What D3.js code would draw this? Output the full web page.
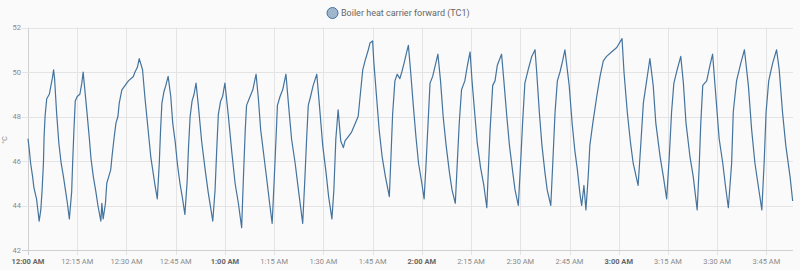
<!DOCTYPE html>
<html>
<head>
<meta charset="utf-8">
<script src="https://cdn.jsdelivr.net/npm/d3@7"></script>
<style>
  body { margin: 0; background: #fafafa; font-family: Roboto, "Noto Sans", sans-serif; }
  svg { display: block; }
</style>
</head>
<body>
<script>
// series: minutes after midnight, value in °C
var minutes = [
  0.0, 0.4, 0.8, 1.4, 1.8, 2.6, 3.0, 3.4, 3.9, 4.3, 4.7, 4.9, 5.2, 5.7, 6.5, 7.0, 7.4, 7.8,
  8.1, 8.7, 9.4, 10.1, 10.8, 11.4, 12.0, 12.6, 13.3, 13.6, 14.0, 14.4, 15.0, 15.8, 16.4, 16.8,
  17.9, 18.7, 19.2, 19.9, 20.7, 21.3, 22.2, 22.5, 22.9, 23.6, 24.0, 24.6, 25.2, 25.6, 26.2,
  26.8, 27.4, 27.8, 28.6, 29.6, 30.6, 32.1, 32.6, 33.3, 33.9, 34.9, 35.6, 36.2, 36.8, 37.4,
  38.0, 38.7, 39.4, 40.0, 40.4, 40.8, 41.4, 42.0, 42.7, 43.5, 44.1, 44.9, 45.5, 46.3, 47.1,
  47.8, 48.5, 48.9, 49.4, 50.0, 50.6, 51.2, 51.9, 52.9, 53.9, 54.9, 56.3, 57.0, 57.5, 58.0,
  58.7, 59.3, 60.0, 61.0, 62.1, 63.1, 64.1, 65.1, 65.6, 66.2, 66.6, 67.4, 68.5, 69.5, 70.2,
  70.9, 71.9, 72.9, 73.7, 74.4, 75.0, 75.6, 76.0, 76.8, 77.6, 78.6, 79.4, 80.3, 81.4, 82.4,
  83.7, 84.3, 84.9, 85.4, 86.1, 86.9, 88.0, 88.8, 89.8, 90.8, 91.6, 92.6, 93.2, 93.8, 94.5,
  95.3, 96.1, 96.6, 97.6, 98.6, 100.6, 101.4, 102.0, 102.7, 103.7, 104.2, 105.0, 105.4,
  106.2, 107.0, 107.9, 108.9, 110.1, 110.6, 111.1, 111.8, 112.5, 113.3, 113.9, 114.6, 115.4,
  115.9, 116.6, 117.4, 118.2, 119.0, 120.0, 120.7, 121.3, 121.9, 122.5, 123.3, 124.1, 124.9,
  125.7, 126.5, 127.4, 128.4, 129.2, 130.2, 130.8, 131.4, 132.1, 133.1, 133.9, 134.7, 135.3,
  136.2, 136.9, 137.9, 138.9, 139.8, 140.3, 140.8, 141.6, 142.3, 143.0, 144.3, 145.0, 145.9,
  146.7, 147.7, 148.4, 149.4, 150.1, 150.7, 151.4, 152.4, 153.5, 154.5, 155.0, 155.8, 156.6,
  157.5, 158.2, 159.3, 159.9, 160.6, 161.3, 162.1, 162.9, 163.6, 164.9, 165.8, 166.6, 167.4,
  168.2, 168.7, 169.4, 170.0, 170.7, 171.2, 172.1, 173.3, 174.3, 175.3, 176.3, 177.8, 179.4,
  181.0, 181.6, 182.6, 183.6, 184.4, 185.9, 186.7, 187.5, 188.5, 189.0, 189.5, 190.5, 191.3,
  192.6, 193.6, 194.6, 195.4, 196.1, 196.8, 197.8, 198.9, 199.7, 200.5, 201.7, 202.7, 203.9,
  204.5, 205.0, 205.6, 206.8, 207.8, 208.6, 209.6, 210.6, 211.7, 212.5, 213.4, 214.4, 214.9,
  215.9, 217.2, 218.3, 219.5, 220.5, 221.5, 222.5, 223.6, 224.3, 224.9, 225.7, 226.9, 228.1,
  228.9, 229.9, 230.9, 232.2, 233.0
];
var temps = [
  47.0, 46.5, 45.9, 45.3, 44.8, 44.3, 43.8, 43.3, 43.8, 44.7, 45.9, 47.1, 48.0, 48.8, 49.0, 49.4, 49.7, 50.1,
  49.7, 48.2, 46.8, 45.9, 45.3, 44.7, 44.1, 43.4, 44.6, 45.9, 47.4, 48.7, 48.9, 49.0, 49.5, 50.0,
  48.3, 47.0, 46.1, 45.3, 44.6, 44.0, 43.3, 44.1, 43.4, 44.1, 45.0, 45.3, 45.6, 46.2, 47.0,
  47.7, 48.0, 48.6, 49.2, 49.4, 49.6, 49.8, 50.0, 50.2, 50.6, 50.1, 48.9, 48.0, 47.1, 46.2,
  45.6, 44.9, 44.3, 45.9, 47.4, 48.6, 49.1, 49.4, 49.8, 48.9, 47.7, 46.8, 45.9, 45.0, 44.3,
  43.6, 45.1, 46.6, 48.0, 48.7, 49.0, 49.5, 48.5, 46.9, 45.7, 44.6, 43.3, 44.7, 46.5, 48.1,
  48.7, 48.9, 49.5, 48.1, 46.4, 45.0, 44.1, 43.0, 45.1, 47.4, 48.5, 48.8, 49.2, 49.9, 48.8,
  47.4, 46.2, 45.0, 44.0, 43.2, 45.1, 47.1, 48.5, 48.9, 49.2, 49.9, 48.5, 47.0, 45.9, 44.7,
  43.2, 45.0, 47.0, 48.5, 48.9, 49.4, 49.9, 48.5, 46.7, 45.5, 44.4, 43.4, 44.7, 47.0, 48.3,
  46.9, 46.6, 46.9, 47.1, 47.3, 48.0, 49.2, 50.1, 50.5, 51.0, 51.3, 51.4, 50.4,
  48.9, 47.4, 46.2, 45.3, 44.4, 46.2, 48.1, 49.6, 49.9, 49.7, 50.0, 50.4, 50.9,
  51.2, 50.0, 48.5, 47.1, 45.9, 45.0, 44.3, 45.9, 47.7, 49.5, 49.8, 50.3, 50.8,
  49.6, 48.0, 46.7, 45.5, 44.7, 44.1, 45.9, 47.7, 49.2, 49.6, 50.3, 50.9, 49.6,
  48.0, 46.8, 45.7, 44.9, 43.9, 45.7, 47.4, 49.4, 49.6, 50.3, 50.8, 49.6, 48.0,
  46.7, 45.5, 44.7, 44.0, 45.9, 47.7, 49.5, 50.1, 50.7, 51.0, 50.0, 48.2, 46.7,
  45.5, 44.7, 44.0, 45.9, 48.2, 49.6, 50.0, 50.5, 51.0, 49.4, 47.7, 46.5, 45.6,
  44.5, 44.0, 44.9, 43.8, 45.3, 46.7, 47.7, 48.9, 49.8, 50.5, 50.7, 50.9, 51.1,
  51.5, 50.0, 48.2, 46.8, 45.9, 44.9, 46.7, 48.6, 49.6, 50.1, 50.6, 49.4, 47.7,
  46.2, 45.3, 44.3, 46.2, 48.2, 49.5, 50.1, 50.7, 49.5, 47.7, 46.2, 45.3, 43.8,
  45.7, 47.7, 49.4, 49.6, 50.3, 50.8, 48.9, 47.0, 45.9, 44.9, 43.9, 45.9, 48.2,
  49.6, 50.4, 51.0, 49.4, 47.4, 45.9, 44.9, 43.8, 45.9, 48.2, 49.6, 50.4, 51.0,
  50.1, 48.2, 46.7, 45.3, 44.2
];
var yTicks = [42, 44, 46, 48, 50, 52];
var seriesName = "Boiler heat carrier forward (TC1)";
var unit = "°C";

var width = 800, height = 270;
var plotLeft = 28, plotRight = 793, plotTop = 27.5, plotBottom = 250;
var lineColor = "#44739e";

var t0 = new Date(2020, 0, 1, 0, 0, 0);
var toDate = function(m) { return new Date(t0.getTime() + m * 60000); };

var data = minutes.map(function(m, i) { return { t: toDate(m), v: temps[i] }; });

var svg = d3.select("body").append("svg")
    .attr("width", width)
    .attr("height", height);

var x = d3.scaleTime()
    .domain([t0, toDate(233.1)])
    .range([plotLeft, plotRight]);

var y = d3.scaleLinear()
    .domain([42, 52])
    .range([plotBottom, plotTop]);

// grid
var xTicks = x.ticks(d3.timeMinute.every(15));

svg.append("g")
    .selectAll("line")
    .data(xTicks)
    .enter().append("line")
    .attr("x1", function(d) { return Math.round(x(d)) + 0.5; })
    .attr("x2", function(d) { return Math.round(x(d)) + 0.5; })
    .attr("y1", plotTop)
    .attr("y2", plotBottom + 5)
    .attr("stroke", function(d, i) { return i == 0 ? "#d0d0d0" : "#e4e4e4"; });

svg.append("g")
    .selectAll("line")
    .data(yTicks)
    .enter().append("line")
    .attr("x1", plotLeft - 6)
    .attr("x2", plotRight)
    .attr("y1", function(d) { return Math.round(y(d)) + 0.5; })
    .attr("y2", function(d) { return Math.round(y(d)) + 0.5; })
    .attr("stroke", function(d, i) { return i == 0 ? "#d0d0d0" : "#e4e4e4"; });

// y labels
svg.append("g")
    .selectAll("text")
    .data(yTicks)
    .enter().append("text")
    .attr("x", plotLeft - 7)
    .attr("y", function(d) { return y(d) + 2.5; })
    .attr("text-anchor", "end")
    .attr("font-size", 7.5)
    .attr("fill", "#8a8a8a")
    .text(function(d) { return d; });

svg.append("text")
    .attr("transform", "translate(7," + 140 + ") rotate(-90)")
    .attr("text-anchor", "middle")
    .attr("font-size", 7.5)
    .attr("fill", "#8a8a8a")
    .text(unit);

// x labels
var fmt = d3.timeFormat("%-I:%M %p");
svg.append("g")
    .selectAll("text")
    .data(xTicks)
    .enter().append("text")
    .attr("x", function(d) { return x(d); })
    .attr("y", 264)
    .attr("text-anchor", "middle")
    .attr("font-size", 7.5)
    .attr("font-weight", function(d) { return d.getMinutes() == 0 ? "bold" : "normal"; })
    .attr("fill", function(d) { return d.getMinutes() == 0 ? "#666" : "#8a8a8a"; })
    .text(function(d) { return fmt(d); });

// the line
var line = d3.line()
    .x(function(d) { return x(d.t); })
    .y(function(d) { return y(d.v); });

svg.append("path")
    .datum(data)
    .attr("fill", "none")
    .attr("stroke", lineColor)
    .attr("stroke-width", 1.2)
    .attr("stroke-linejoin", "round")
    .attr("d", line);

// legend
var legend = svg.append("g");
legend.append("circle")
    .attr("cx", 332.5)
    .attr("cy", 13)
    .attr("r", 5.5)
    .attr("fill", "rgba(68,115,158,0.5)")
    .attr("stroke", lineColor)
    .attr("stroke-width", 1);
legend.append("text")
    .attr("x", 341)
    .attr("y", 16)
    .attr("font-size", 9)
    .attr("fill", "#666")
    .text(seriesName);
</script>
</body>
</html>
